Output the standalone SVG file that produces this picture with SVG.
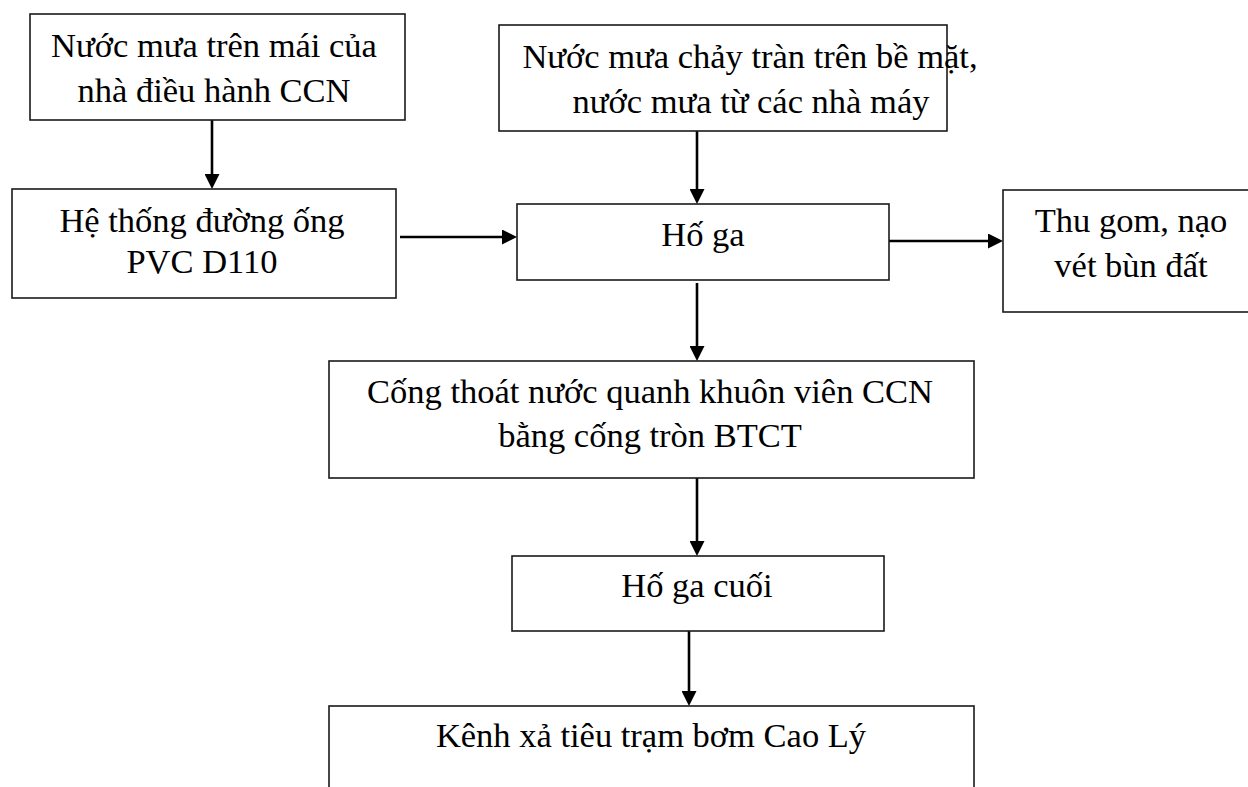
<svg xmlns="http://www.w3.org/2000/svg" width="1248" height="787" viewBox="0 0 1248 787">
  <style>
    .box { fill: #ffffff; stroke: #1a1a1a; stroke-width: 1.6; }
    .lbl { font-family: "Liberation Serif", "Times New Roman", serif; font-size: 34.5px; fill: #000000; }
    .mid { text-anchor: middle; }
    .edge { stroke: #000000; stroke-width: 2.6; fill: none; marker-end: url(#head); }
  </style>
  <defs>
    <marker id="head" markerUnits="userSpaceOnUse" markerWidth="15" markerHeight="15" refX="7" refY="7.5" orient="auto">
      <path d="M0,0 L15,7.5 L0,15 Z" fill="#000000"/>
    </marker>
  </defs>

  <rect width="1248" height="787" fill="#ffffff"/>

  <!-- flow connectors -->
  <g id="connectors">
    <line class="edge" x1="212" y1="120" x2="212" y2="181"/>
    <line class="edge" x1="697" y1="131" x2="697" y2="196"/>
    <line class="edge" x1="400" y1="237" x2="509" y2="237"/>
    <line class="edge" x1="888" y1="241" x2="995" y2="241"/>
    <line class="edge" x1="697" y1="283" x2="697" y2="353"/>
    <line class="edge" x1="697" y1="478" x2="697" y2="548"/>
    <line class="edge" x1="689" y1="628" x2="689" y2="698"/>
  </g>

  <g id="roof-rain">
    <rect class="box" x="30" y="14" width="375" height="106"/>
    <text class="lbl mid" x="214" y="57">Nước mưa trên mái của</text>
    <text class="lbl mid" x="214" y="102">nhà điều hành CCN</text>
  </g>

  <g id="pvc-pipe">
    <rect class="box" x="12" y="189" width="384" height="109"/>
    <text class="lbl mid" x="202" y="232">Hệ thống đường ống</text>
    <text class="lbl mid" x="202" y="273">PVC D110</text>
  </g>

  <g id="surface-rain">
    <rect class="box" x="499" y="25" width="448" height="106"/>
    <text class="lbl mid" x="750" y="68">Nước mưa chảy tràn trên bề mặt,</text>
    <text class="lbl mid" x="751" y="113">nước mưa từ các nhà máy</text>
  </g>

  <g id="manhole">
    <rect class="box" x="517" y="204" width="372" height="76"/>
    <text class="lbl mid" x="703" y="246">Hố ga</text>
  </g>

  <g id="sludge">
    <rect class="box" x="1003" y="190" width="275" height="122"/>
    <text class="lbl mid" x="1131" y="232">Thu gom, nạo</text>
    <text class="lbl mid" x="1131" y="277">vét bùn đất</text>
  </g>

  <g id="culvert">
    <rect class="box" x="329" y="361" width="645" height="117"/>
    <text class="lbl mid" x="650" y="403">Cống thoát nước quanh khuôn viên CCN</text>
    <text class="lbl mid" x="650" y="447">bằng cống tròn BTCT</text>
  </g>

  <g id="final-manhole">
    <rect class="box" x="512" y="556" width="372" height="75"/>
    <text class="lbl mid" x="697" y="597">Hố ga cuối</text>
  </g>

  <g id="outfall">
    <rect class="box" x="329" y="706" width="645" height="100"/>
    <text class="lbl mid" x="651" y="747">Kênh xả tiêu trạm bơm Cao Lý</text>
  </g>
</svg>
